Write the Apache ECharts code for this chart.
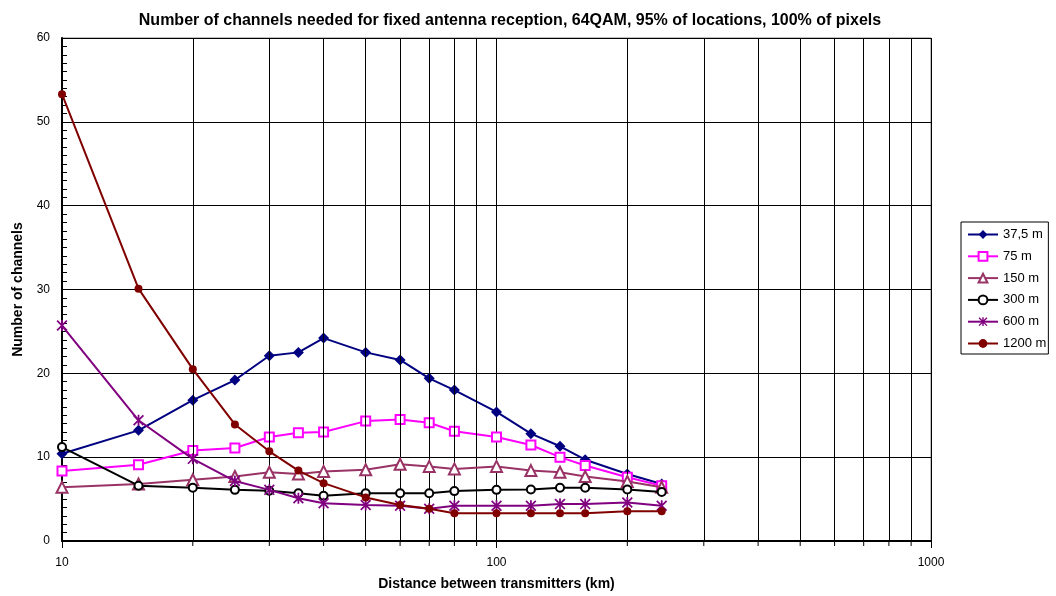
<!DOCTYPE html>
<html>
<head>
<meta charset="utf-8">
<script src="https://cdn.jsdelivr.net/npm/echarts@6/dist/echarts.min.js"></script>
<style>
html,body{margin:0;padding:0;background:#fff;}
#chart{width:1056px;height:596px;}
</style>
</head>
<body>
<div id="chart"></div>
<script>
const titleText = 'Number of channels needed for fixed antenna reception, 64QAM, 95% of locations, 100% of pixels';
const distances = [10, 15, 20, 25, 30, 35, 40, 50, 60, 70, 80, 100, 120, 140, 160, 200, 240];
const seriesNames = ['37,5 m', '75 m', '150 m', '300 m', '600 m', '1200 m'];
const h37_5 = [10.4, 13.2, 16.8, 19.2, 22.1, 22.5, 24.2, 22.5, 21.6, 19.4, 18.0, 15.4, 12.8, 11.3, 9.7, 8.0, 6.8];
const h75 = [8.35, 9.1, 10.8, 11.1, 12.4, 12.9, 13.0, 14.3, 14.5, 14.1, 13.1, 12.4, 11.45, 10.0, 9.0, 7.6, 6.6];
const h150 = [6.4, 6.8, 7.3, 7.7, 8.2, 8.0, 8.3, 8.5, 9.15, 8.9, 8.6, 8.9, 8.4, 8.2, 7.7, 7.1, 6.4];
const h300 = [11.2, 6.6, 6.35, 6.1, 6.0, 5.7, 5.4, 5.7, 5.7, 5.7, 5.95, 6.1, 6.15, 6.35, 6.35, 6.15, 5.85];
const h600 = [25.7, 14.4, 9.8, 7.15, 6.1, 5.1, 4.5, 4.3, 4.2, 3.85, 4.2, 4.2, 4.2, 4.4, 4.4, 4.6, 4.2];
const h1200 = [53.3, 30.1, 20.5, 13.9, 10.7, 8.4, 6.9, 5.2, 4.3, 3.85, 3.3, 3.3, 3.3, 3.3, 3.3, 3.55, 3.55];
const xGridValues = [20, 30, 40, 50, 60, 70, 80, 90, 200, 300, 400, 500, 600, 700, 800, 900];

const FONT = 'Arial, "Liberation Sans", sans-serif';
const starPath = 'path://M4.2 0 L5.8 0 L5.8 10 L4.2 10 Z M0 1.1 L1.1 0 L10 8.9 L8.9 10 Z M8.9 0 L10 1.1 L1.1 10 L0 8.9 Z';

const allValues = [h37_5, h75, h150, h300, h600, h1200];
const styles = [
  {color: '#000080', symbol: 'diamond', size: 11},
  {color: '#FF00FF', symbol: 'emptyRect', size: 9},
  {color: '#993366', symbol: 'emptyTriangle', size: 11},
  {color: '#000000', symbol: 'emptyCircle', size: 8},
  {color: '#800080', symbol: starPath, size: 11},
  {color: '#800000', symbol: 'circle', size: 8}
];

const series = seriesNames.map((name, i) => ({
  name: name,
  type: 'line',
  data: distances.map((d, j) => [d, allValues[i][j]]),
  symbol: styles[i].symbol,
  symbolSize: styles[i].size,
  showAllSymbol: true,
  lineStyle: {color: styles[i].color, width: 2},
  itemStyle: {color: styles[i].color, borderColor: styles[i].color, borderWidth: styles[i].symbol.startsWith('empty') ? 2 : 0},
  z: 3 + i
}));

series.unshift({
  name: '_grid',
  type: 'line',
  data: [],
  z: 1,
  markLine: {
    silent: true,
    symbol: ['none', 'none'],
    label: {show: false},
    lineStyle: {color: '#000', type: 'solid', width: 1},
    data: xGridValues.map(v => ({xAxis: v}))
  }
});

series.push({
  name: '_minorTicks',
  type: 'custom',
  silent: true,
  clip: false,
  z: 10,
  data: xGridValues.map(v => [v, 0]),
  renderItem: function (params, api) {
    const p = api.coord([api.value(0), 0]);
    return {
      type: 'line',
      shape: {x1: p[0], y1: p[1], x2: p[0], y2: p[1] + 5},
      style: {stroke: '#000', lineWidth: 1}
    };
  }
});

const chart = echarts.init(document.getElementById('chart'), null, {renderer: 'canvas'});
chart.setOption({
  animation: false,
  backgroundColor: '#fff',
  textStyle: {fontFamily: FONT},
  title: {
    text: titleText,
    left: 505,
    textAlign: 'center',
    top: 8,
    textStyle: {fontFamily: FONT, fontSize: 16, fontWeight: 'bold', color: '#000'}
  },
  grid: {left: 62, right: 125, top: 38, bottom: 55, show: true, borderColor: '#808080', borderWidth: 1},
  legend: {
    orient: 'vertical',
    left: 961,
    top: 222,
    padding: [6, 2, 4, 6],
    borderColor: '#000',
    borderWidth: 1,
    itemWidth: 30,
    itemHeight: 11,
    itemGap: 8.8,
    data: seriesNames,
    textStyle: {fontFamily: FONT, fontSize: 13, color: '#000'}
  },
  xAxis: {
    type: 'log',
    logBase: 10,
    min: 10,
    max: 1000,
    name: 'Distance between transmitters (km)',
    nameLocation: 'middle',
    nameGap: 36,
    nameTextStyle: {fontFamily: FONT, fontSize: 14, fontWeight: 'bold', color: '#000'},
    axisLine: {show: true, lineStyle: {color: '#000', width: 2}},
    axisTick: {show: true, inside: false, length: 7, lineStyle: {color: '#000'}},
    axisLabel: {color: '#000', fontSize: 12, fontFamily: FONT, margin: 16, formatter: v => String(v)},
    splitLine: {show: true, lineStyle: {color: '#000', width: 1}}
  },
  yAxis: {
    type: 'value',
    min: 0,
    max: 60,
    interval: 10,
    name: 'Number of channels',
    nameLocation: 'middle',
    nameGap: 37,
    nameTextStyle: {fontFamily: FONT, fontSize: 14, fontWeight: 'bold', color: '#000'},
    axisLine: {show: true, lineStyle: {color: '#000', width: 2}},
    axisTick: {show: true, inside: true, length: 5, lineStyle: {color: '#000'}},
    minorTick: {show: true, splitNumber: 10, length: 5, lineStyle: {color: '#000'}},
    axisLabel: {color: '#000', fontSize: 12, fontFamily: FONT, margin: 12},
    splitLine: {show: true, lineStyle: {color: '#000', width: 1}}
  },
  series: series
});
</script>
</body>
</html>
